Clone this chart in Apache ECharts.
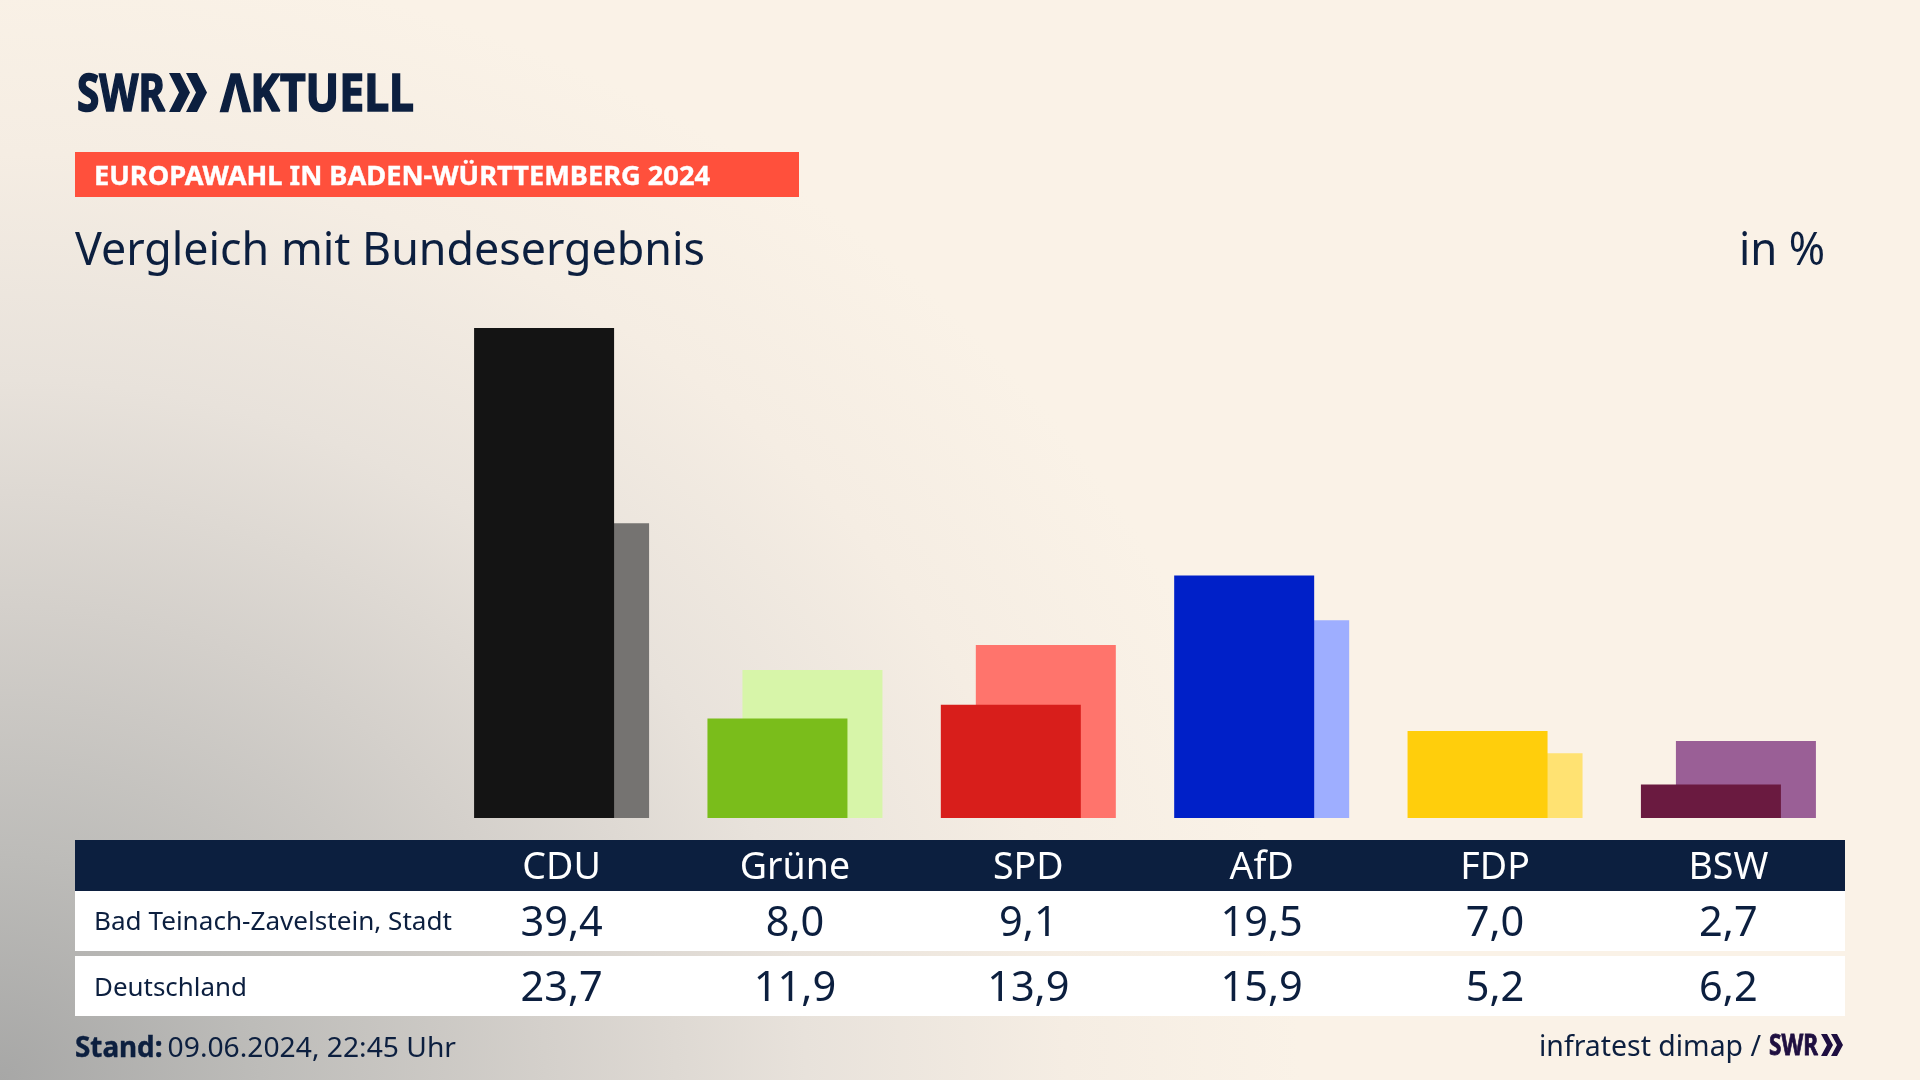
<!DOCTYPE html>
<html lang="de"><head><meta charset="utf-8"><title>Europawahl</title>
<script src="https://cdn.jsdelivr.net/npm/echarts@6/dist/echarts.min.js"></script>
<style>
html,body{margin:0;padding:0;width:1920px;height:1080px;overflow:hidden;
background:#faf2e7;
background-image:radial-gradient(ellipse 1300px 1130px at 0px 1080px,#a7a7a6 0%,#bdbcb9 20%,#d4d0cb 42%,#e8e2db 62%,#f5ede3 82%,#faf2e7 100%);}
#c{width:1920px;height:1080px}
</style></head><body><div id="c"></div>
<script>
const parties = ['CDU','Grüne','SPD','AfD','FDP','BSW'];
const localValues = [39.4,8.0,9.1,19.5,7.0,2.7];
const nationalValues = [23.7,11.9,13.9,15.9,5.2,6.2];
const localColors = ['#141414','#7abd1b','#d81e1b','#0020c8','#ffce0c','#6a1a40'];
const nationalColors = ['#757371','#d7f5a9','#ff746c','#9eaeff','#ffe272','#9a5f96'];
const rowLocal = 'Bad Teinach-Zavelstein, Stadt';
const rowNational = 'Deutschland';
const fmt = v => v.toFixed(1).replace('.', ',');

const NAVY = '#0c1f3f';
const FONT = '"Noto Sans"';
const mctx = document.createElement('canvas').getContext('2d');
function fit(text, x0, x1, yc, size, weight, color, stroke) {
  mctx.font = weight + ' ' + size + 'px ' + FONT;
  const w = mctx.measureText(text).width;
  const style = {text:text, fill:color||NAVY, fontFamily:'Noto Sans', fontSize:size, fontWeight:weight, align:'left', verticalAlign:'middle'};
  if (stroke) { style.stroke = color||NAVY; style.lineWidth = stroke; }
  return {type:'text', x:x0, y:yc, scaleX:(x1-x0)/w, z:5, silent:true, style:style};
}
function rect(x,y,w,h,fill){return {type:'rect', z:1, silent:true, shape:{x:x,y:y,width:w,height:h}, style:{fill:fill}};}
function chevron(x,top,bot,t,d,fill){const m=(top+bot)/2;
  return {type:'polygon', z:5, silent:true, shape:{points:[[x,top],[x+t,top],[x+t+d,m],[x+t,bot],[x,bot],[x+d,m]]}, style:{fill:fill}};}

const chart = echarts.init(document.getElementById('c'), null, {renderer:'canvas', width:1920, height:1080});
const baseAxis = {type:'category', data:parties, position:'bottom', axisLine:{show:false}, axisTick:{show:false}, z:6};
function labelAxis(data, offset, size, color){
  return Object.assign({}, baseAxis, {data:data, offset:offset,
    axisLabel:{interval:0, margin:0, fontFamily:'Noto Sans', fontSize:size, color:color, verticalAlign:'middle', align:'center', hideOverlap:false}});
}
chart.setOption({
  animation:false,
  backgroundColor:'transparent',
  grid:{left:444.9, width:1400.2, top:320.5, height:497.5, containLabel:false},
  xAxis:[
    labelAxis(parties, 50.5, 37.5, '#ffffff'),
    labelAxis(localValues.map(fmt), 106.5, 41.5, NAVY),
    labelAxis(nationalValues.map(fmt), 171.5, 41.5, NAVY)
  ],
  yAxis:{type:'value', min:0, max:40, show:false, splitLine:{show:false}},
  series:[
    {type:'bar', name:rowLocal, xAxisIndex:0, z:3, barWidth:140, barGap:'-75%',
     data:localValues.map((v,i)=>({value:v, itemStyle:{color:localColors[i]}}))},
    {type:'bar', name:rowNational, xAxisIndex:0, z:2, barWidth:140, barGap:'-75%',
     data:nationalValues.map((v,i)=>({value:v, itemStyle:{color:nationalColors[i]}}))}
  ],
  graphic:{elements:[
    rect(75,840,1770,51,NAVY),
    rect(75,891,1770,60,'#ffffff'),
    rect(75,956,1770,60,'#ffffff'),
    rect(75,152,724,45,'#ff503c'),
    fit('SWR',77,165,96.5,52,'bold',NAVY,1.6),
    chevron(169,73,112,11,10,NAVY),
    chevron(186,73,112,11,10,NAVY),
    fit('ΛKTUELL',220.6,414,96.5,52,'bold',NAVY,1.6),
    fit('EUROPAWAHL IN BADEN-WÜRTTEMBERG 2024',94,710,177.5,27,'bold','#ffffff',0.4),
    fit('Vergleich mit Bundesergebnis',75,705,252,45,'normal'),
    fit('in %',1739,1825,252,45,'normal'),
    fit(rowLocal,94,452,923,26,'normal'),
    fit(rowNational,94,247,988.5,26,'normal'),
    fit('Stand:',75,162.5,1049.5,28,'bold',NAVY,0.4),
    fit('09.06.2024, 22:45 Uhr',167.6,456,1049.5,28,'normal'),
    fit('infratest dimap /',1539,1761,1048,29,'normal'),
    fit('SWR',1769,1818,1047,28,'bold','#1f0f40',0.8),
    chevron(1821,1034,1056,6,6,'#1f0f40'),
    chevron(1831,1034,1056,6,6,'#1f0f40')
  ]}
});
</script></body></html>
